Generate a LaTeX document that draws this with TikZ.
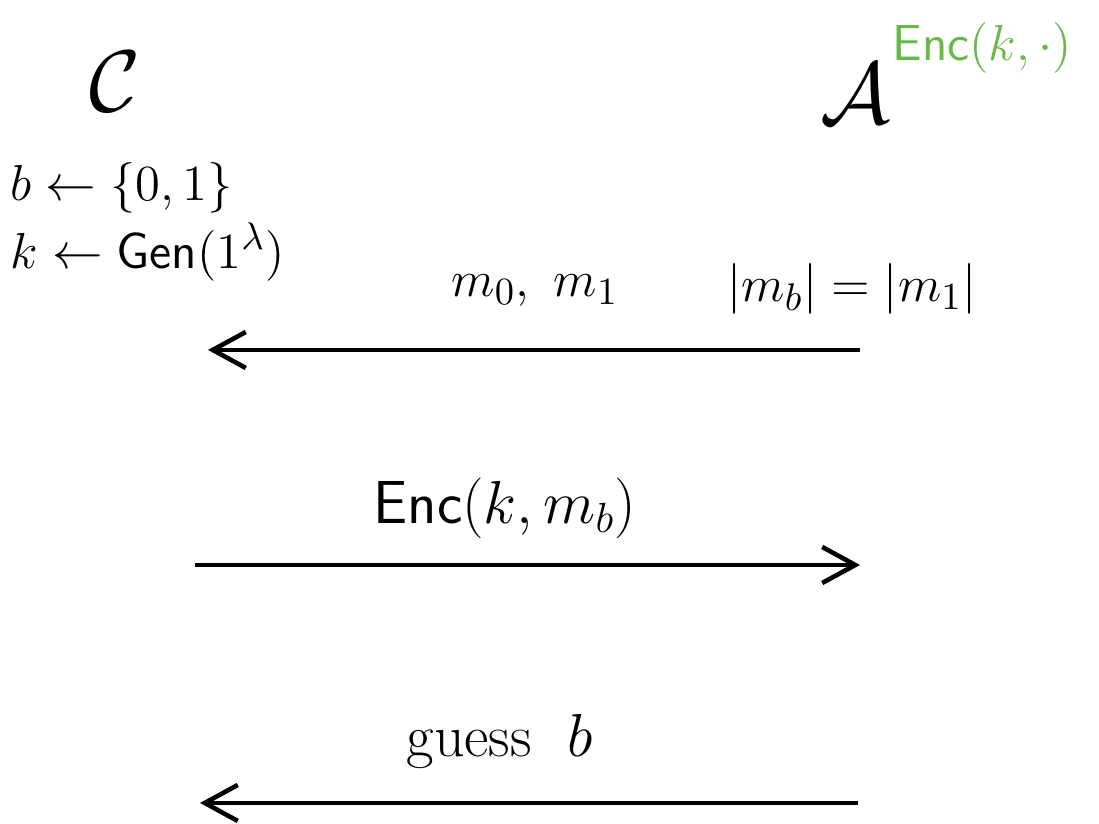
\documentclass[tikz,border=0pt]{standalone}
\usetikzlibrary{arrows.meta}
\definecolor{hgreen}{RGB}{104,186,72}
\begin{document}
\begin{tikzpicture}[x=1cm,y=1cm,
  lbl/.style={inner sep=0pt,font=\fontsize{17}{20}\selectfont},
  slbl/.style={inner sep=0pt,font=\fontsize{15}{18}\selectfont},
  party/.style={inner sep=0pt,font=\fontsize{34}{40}\selectfont},
  msg/.style={line width=1.3pt,-{Straight Barb[length=3.3mm,width=3.6mm,line width=1.3pt]}}]
\useasboundingbox (0,0) rectangle (10.99,8.24);
% parties
\node[party] (C) at (1.15,7.42) {$\mathcal{C}$};
\node[party] (A) at (8.55,7.30) {$\mathcal{A}$};
\node[inner sep=0pt,font=\fontsize{15.5}{18}\selectfont,text=hgreen,anchor=west] (oracle) at (8.92,7.76) {$\mathsf{Enc}(k,\cdot)$};
% challenger setup
\node[slbl,anchor=west] (setb) at (0.10,6.36) {$b \leftarrow \{0,1\}$};
\node[slbl,anchor=west] (setk) at (0.10,5.72) {$k \leftarrow \mathsf{Gen}(1^\lambda)$};
% message 1
\coordinate (m1s) at (8.60,4.74);
\coordinate (m1e) at (2.08,4.74);
\draw[msg] (m1s) -- (m1e);
\node[slbl] (m01) at (5.35,5.33) {$m_0,\ m_1$};
\node[slbl] (eqlen) at (8.52,5.35) {$|m_b| = |m_1|$};
% message 2
\coordinate (m2s) at (1.95,2.59);
\coordinate (m2e) at (8.60,2.59);
\draw[msg] (m2s) -- (m2e);
\node[lbl] (encmb) at (5.05,3.16) {$\mathsf{Enc}(k, m_b)$};
% message 3
\coordinate (m3s) at (8.58,0.21);
\coordinate (m3e) at (2.00,0.21);
\draw[msg] (m3s) -- (m3e);
\node[lbl] (guess) at (5.00,0.82) {guess\ \ $b$};
\end{tikzpicture}
\end{document}
